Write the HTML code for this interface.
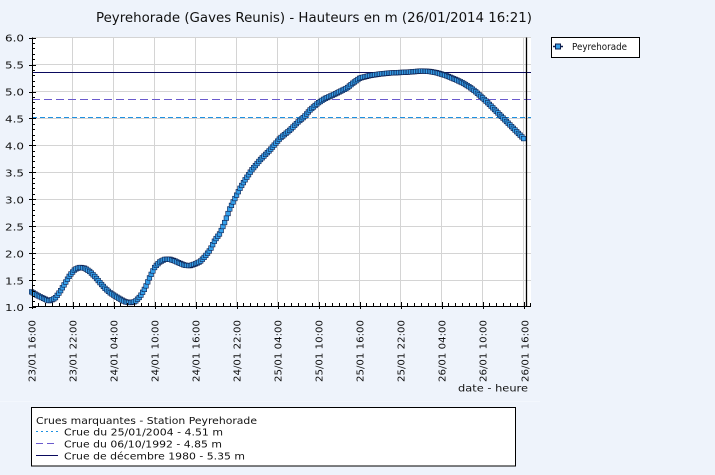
<!DOCTYPE html>
<html>
<head>
<meta charset="utf-8">
<style>
  html,body{margin:0;padding:0;background:#eef3fb;}
  svg{display:block;}
  text{font-family:"DejaVu Sans","Liberation Sans",sans-serif;fill:#111;}
</style>
</head>
<body>
<svg id="s" width="715" height="475" viewBox="0 0 715 475" xmlns="http://www.w3.org/2000/svg">
  <rect x="0" y="0" width="715" height="475" fill="#eef3fb"/>
  <line x1="0" y1="401.5" x2="540" y2="401.5" stroke="#f3f7fd" stroke-width="1"/>

  <!-- Title -->
  <text x="96" y="22" font-size="13" textLength="436" lengthAdjust="spacingAndGlyphs">Peyrehorade (Gaves Reunis) - Hauteurs en m (26/01/2014 16:21)</text>

  <!-- Plot background -->
  <rect x="32" y="37.5" width="499" height="269.5" fill="#ffffff"/>

  <!-- Grid -->
  <g stroke="#d4d4d4" stroke-width="1" shape-rendering="crispEdges">
    <line x1="32" y1="37.5" x2="531" y2="37.5"/>
    <line x1="32" y1="64.5" x2="531" y2="64.5"/>
    <line x1="32" y1="91.5" x2="531" y2="91.5"/>
    <line x1="32" y1="118.5" x2="531" y2="118.5"/>
    <line x1="32" y1="145.5" x2="531" y2="145.5"/>
    <line x1="32" y1="172.5" x2="531" y2="172.5"/>
    <line x1="32" y1="199.5" x2="531" y2="199.5"/>
    <line x1="32" y1="226.5" x2="531" y2="226.5"/>
    <line x1="32" y1="253.5" x2="531" y2="253.5"/>
    <line x1="32" y1="280.5" x2="531" y2="280.5"/>
    <line x1="72.5" y1="37.5" x2="72.5" y2="307"/>
    <line x1="113.5" y1="37.5" x2="113.5" y2="307"/>
    <line x1="154.5" y1="37.5" x2="154.5" y2="307"/>
    <line x1="195.5" y1="37.5" x2="195.5" y2="307"/>
    <line x1="236.5" y1="37.5" x2="236.5" y2="307"/>
    <line x1="277.5" y1="37.5" x2="277.5" y2="307"/>
    <line x1="318.5" y1="37.5" x2="318.5" y2="307"/>
    <line x1="359.5" y1="37.5" x2="359.5" y2="307"/>
    <line x1="400.5" y1="37.5" x2="400.5" y2="307"/>
    <line x1="441.5" y1="37.5" x2="441.5" y2="307"/>
    <line x1="482.5" y1="37.5" x2="482.5" y2="307"/>
    <line x1="523.5" y1="37.5" x2="523.5" y2="307"/>
  </g>

  <!-- Reference lines -->
  <g shape-rendering="crispEdges">
    <line x1="32" y1="117.5" x2="531" y2="117.5" stroke="#1e90e0" stroke-width="1" stroke-dasharray="5,3"/>
    <line x1="32" y1="99.5" x2="531" y2="99.5" stroke="#6a5acd" stroke-width="1" stroke-dasharray="8,4"/>
    <line x1="32" y1="72.5" x2="531" y2="72.5" stroke="#0a0a5e" stroke-width="1"/>
  </g>

  <!-- Current time line -->
  <line x1="526.5" y1="37.5" x2="526.5" y2="307" stroke="#000" stroke-width="1.3"/>

  <!-- Series -->
  <g id="fallback">
    <polyline fill="none" stroke="#0b1d4d" stroke-width="5" stroke-linejoin="round" points="32,291.5 36.7,295 43.3,298.3 48,300.5 50,300.7 55,298.3 60,291.7 65,283.3 70,275 75,269.3 80,267.3 85,268.3 90,271.7 95,276.7 100,282.7 105,288.3 110,292.7 115,296 120,299 125,301.7 130,302.7 135,301.7 140,296.7 145,288.3 150,276.7 155,266.7 160,261.7 165,259.3 170,259.3 175,261 180,263.3 185,265.3 190,265.7 195,264 200,261.7 205,256.5 210,250 215,240 220,233.3 225,221.7 230,208.3 235,198.3 240,188.3 245,180 251.7,170 260,160 270,150 280,138.3 290,130 298.3,121.7 304,117 310,110 318,103 325,98.5 333,95 340,91.5 347,88 353,83 360,78 370,75.5 380,74 390,73 400,72.5 410,72 421.7,71 430,71.5 436.7,72.7 446,75.5 456.7,80 463,83 470,87.3 476,92 483,98.3 488,103 493.3,108.3 498,113 503.3,118.3 508,123 513.3,128.3 518,133 524,139"/>
  </g>
  <g id="series"></g>

  <!-- Axes -->
  <g stroke="#000" stroke-width="1" shape-rendering="crispEdges">
    <line x1="32.5" y1="37.5" x2="32.5" y2="307"/>
    <line x1="32" y1="306.5" x2="531" y2="306.5"/>
  </g>
  <g id="ticks" stroke="#000" stroke-width="1" shape-rendering="crispEdges"></g>

  <!-- Y labels -->
  <g font-size="10">
    <text x="5" y="41.5" textLength="19" lengthAdjust="spacingAndGlyphs">6.0</text>
    <text x="5" y="68.5" textLength="19" lengthAdjust="spacingAndGlyphs">5.5</text>
    <text x="5" y="95.5" textLength="19" lengthAdjust="spacingAndGlyphs">5.0</text>
    <text x="5" y="122.5" textLength="19" lengthAdjust="spacingAndGlyphs">4.5</text>
    <text x="5" y="149.5" textLength="19" lengthAdjust="spacingAndGlyphs">4.0</text>
    <text x="5" y="176.5" textLength="19" lengthAdjust="spacingAndGlyphs">3.5</text>
    <text x="5" y="203.5" textLength="19" lengthAdjust="spacingAndGlyphs">3.0</text>
    <text x="5" y="230.5" textLength="19" lengthAdjust="spacingAndGlyphs">2.5</text>
    <text x="5" y="257.5" textLength="19" lengthAdjust="spacingAndGlyphs">2.0</text>
    <text x="5" y="284.5" textLength="19" lengthAdjust="spacingAndGlyphs">1.5</text>
    <text x="5" y="311" textLength="19" lengthAdjust="spacingAndGlyphs">1.0</text>
  </g>

  <!-- X labels -->
  <g font-size="10">
    <text transform="translate(35.4,382) rotate(-90)" textLength="62" lengthAdjust="spacingAndGlyphs">23/01  16:00</text>
    <text transform="translate(76.4,382) rotate(-90)" textLength="62" lengthAdjust="spacingAndGlyphs">23/01  22:00</text>
    <text transform="translate(117.4,382) rotate(-90)" textLength="62" lengthAdjust="spacingAndGlyphs">24/01  04:00</text>
    <text transform="translate(158.4,382) rotate(-90)" textLength="62" lengthAdjust="spacingAndGlyphs">24/01  10:00</text>
    <text transform="translate(199.4,382) rotate(-90)" textLength="62" lengthAdjust="spacingAndGlyphs">24/01  16:00</text>
    <text transform="translate(240.4,382) rotate(-90)" textLength="62" lengthAdjust="spacingAndGlyphs">24/01  22:00</text>
    <text transform="translate(281.4,382) rotate(-90)" textLength="62" lengthAdjust="spacingAndGlyphs">25/01  04:00</text>
    <text transform="translate(322.4,382) rotate(-90)" textLength="62" lengthAdjust="spacingAndGlyphs">25/01  10:00</text>
    <text transform="translate(363.4,382) rotate(-90)" textLength="62" lengthAdjust="spacingAndGlyphs">25/01  16:00</text>
    <text transform="translate(404.4,382) rotate(-90)" textLength="62" lengthAdjust="spacingAndGlyphs">25/01  22:00</text>
    <text transform="translate(445.4,382) rotate(-90)" textLength="62" lengthAdjust="spacingAndGlyphs">26/01  04:00</text>
    <text transform="translate(486.4,382) rotate(-90)" textLength="62" lengthAdjust="spacingAndGlyphs">26/01  10:00</text>
    <text transform="translate(528.6,382) rotate(-90)" textLength="62" lengthAdjust="spacingAndGlyphs">26/01  16:00</text>
  </g>
  <text x="458" y="391.5" font-size="10" textLength="70" lengthAdjust="spacingAndGlyphs">date  -  heure</text>

  <!-- Top-right legend -->
  <rect x="551.5" y="37.5" width="88" height="20" fill="#ffffff" stroke="#000" stroke-width="1"/>
  <line x1="553" y1="46.5" x2="563" y2="46.5" stroke="#0b1d4d" stroke-width="1.5"/>
  <rect x="555.5" y="44" width="5" height="5" fill="#36a0ea" stroke="#0b1d4d" stroke-width="1"/>
  <text x="572" y="50" font-size="9.5" textLength="55" lengthAdjust="spacingAndGlyphs">Peyrehorade</text>

  <!-- Bottom legend -->
  <rect x="31.5" y="407.5" width="484" height="58.5" fill="#ffffff" stroke="#000" stroke-width="1"/>
  <g font-size="10">
    <text x="36" y="423.8" textLength="221" lengthAdjust="spacingAndGlyphs">Crues marquantes - Station Peyrehorade</text>
    <text x="64" y="435.7" textLength="159" lengthAdjust="spacingAndGlyphs">Crue du 25/01/2004 - 4.51 m</text>
    <text x="64" y="447.6" textLength="158" lengthAdjust="spacingAndGlyphs">Crue du 06/10/1992 - 4.85 m</text>
    <text x="64" y="459.5" textLength="181" lengthAdjust="spacingAndGlyphs">Crue de décembre 1980 - 5.35 m</text>
  </g>
  <g shape-rendering="crispEdges">
    <line x1="36" y1="431.5" x2="58" y2="431.5" stroke="#1e90e0" stroke-width="1" stroke-dasharray="2,3"/>
    <line x1="36" y1="443.5" x2="58" y2="443.5" stroke="#6a5acd" stroke-width="1" stroke-dasharray="7,4"/>
    <line x1="36" y1="455.5" x2="58" y2="455.5" stroke="#0a0a5e" stroke-width="1"/>
  </g>
</svg>
<script>
(function(){
  var NS="http://www.w3.org/2000/svg";
  var P=[[31,291.5],[36.7,295],[43.3,298.3],[48,300.5],[50,300.7],[55,298.3],[60,291.7],[65,283.3],[70,275],[75,269.3],[80,267.3],[85,268.3],[90,271.7],[95,276.7],[100,282.7],[105,288.3],[110,292.7],[115,296],[120,299],[125,301.7],[130,302.7],[135,301.7],[140,296.7],[145,288.3],[150,276.7],[155,266.7],[160,261.7],[165,259.3],[170,259.3],[175,261],[180,263.3],[185,265.3],[190,265.7],[195,264],[200,261.7],[205,256.5],[210,250],[215,240],[220,233.3],[225,221.7],[230,208.3],[235,198.3],[240,188.3],[245,180],[251.7,170],[260,160],[270,150],[280,138.3],[290,130],[298.3,121.7],[304,117],[310,110],[318,103],[325,98.5],[333,95],[340,91.5],[347,88],[353,83],[360,78],[370,75.5],[380,74],[390,73],[400,72.5],[410,72],[421.7,71],[430,71.5],[436.7,72.7],[446,75.5],[456.7,80],[463,83],[470,87.3],[476,92],[483,98.3],[488,103],[493.3,108.3],[498,113],[503.3,118.3],[508,123],[513.3,128.3],[518,133],[525,140]];
  function Y(x){
    for(var i=0;i<P.length-1;i++){
      if(x>=P[i][0]&&x<=P[i+1][0]){
        var f=(x-P[i][0])/(P[i+1][0]-P[i][0]);
        return P[i][1]+f*(P[i+1][1]-P[i][1]);
      }
    }
    return P[P.length-1][1];
  }
  var g=document.getElementById("series");
  var pts=[],xs=[];
  for(var i=0;i<=288;i++){
    var x=31.6+i*6.833/4;
    var y=Y(x);
    pts.push(x.toFixed(2)+","+y.toFixed(2));
    xs.push([x,y]);
  }
  var pl=document.createElementNS(NS,"polyline");
  pl.setAttribute("points",pts.join(" "));
  pl.setAttribute("fill","none");
  pl.setAttribute("stroke","#0b1d4d");
  pl.setAttribute("stroke-width","1.2");
  g.appendChild(pl);
  for(var j=0;j<xs.length;j++){
    var r=document.createElementNS(NS,"rect");
    r.setAttribute("x",(xs[j][0]-2.3).toFixed(2));
    r.setAttribute("y",(xs[j][1]-2.3).toFixed(2));
    r.setAttribute("width","4.6");
    r.setAttribute("height","4.6");
    r.setAttribute("fill","#36a0ea");
    r.setAttribute("stroke","#0b1d4d");
    r.setAttribute("stroke-width","0.6");
    g.appendChild(r);
  }
  var fb=document.getElementById("fallback");
  fb.parentNode.removeChild(fb);

  var t=document.getElementById("ticks");
  function ln(x1,y1,x2,y2){
    var l=document.createElementNS(NS,"line");
    l.setAttribute("x1",x1);l.setAttribute("y1",y1);
    l.setAttribute("x2",x2);l.setAttribute("y2",y2);
    t.appendChild(l);
  }
  for(var k=0;k<=50;k++){
    var yy=Math.round(306.7-k*5.38)+0.5;
    if(k%5===0) ln(29,yy,36,yy); else ln(32,yy,35,yy);
  }
  for(var h=0;h<=73;h++){
    var xx=Math.round(31.6+h*6.833)+0.5;
    if(h%6===0) ln(xx,302,xx,309); else ln(xx,303,xx,307);
  }
})();
</script>
</body>
</html>
